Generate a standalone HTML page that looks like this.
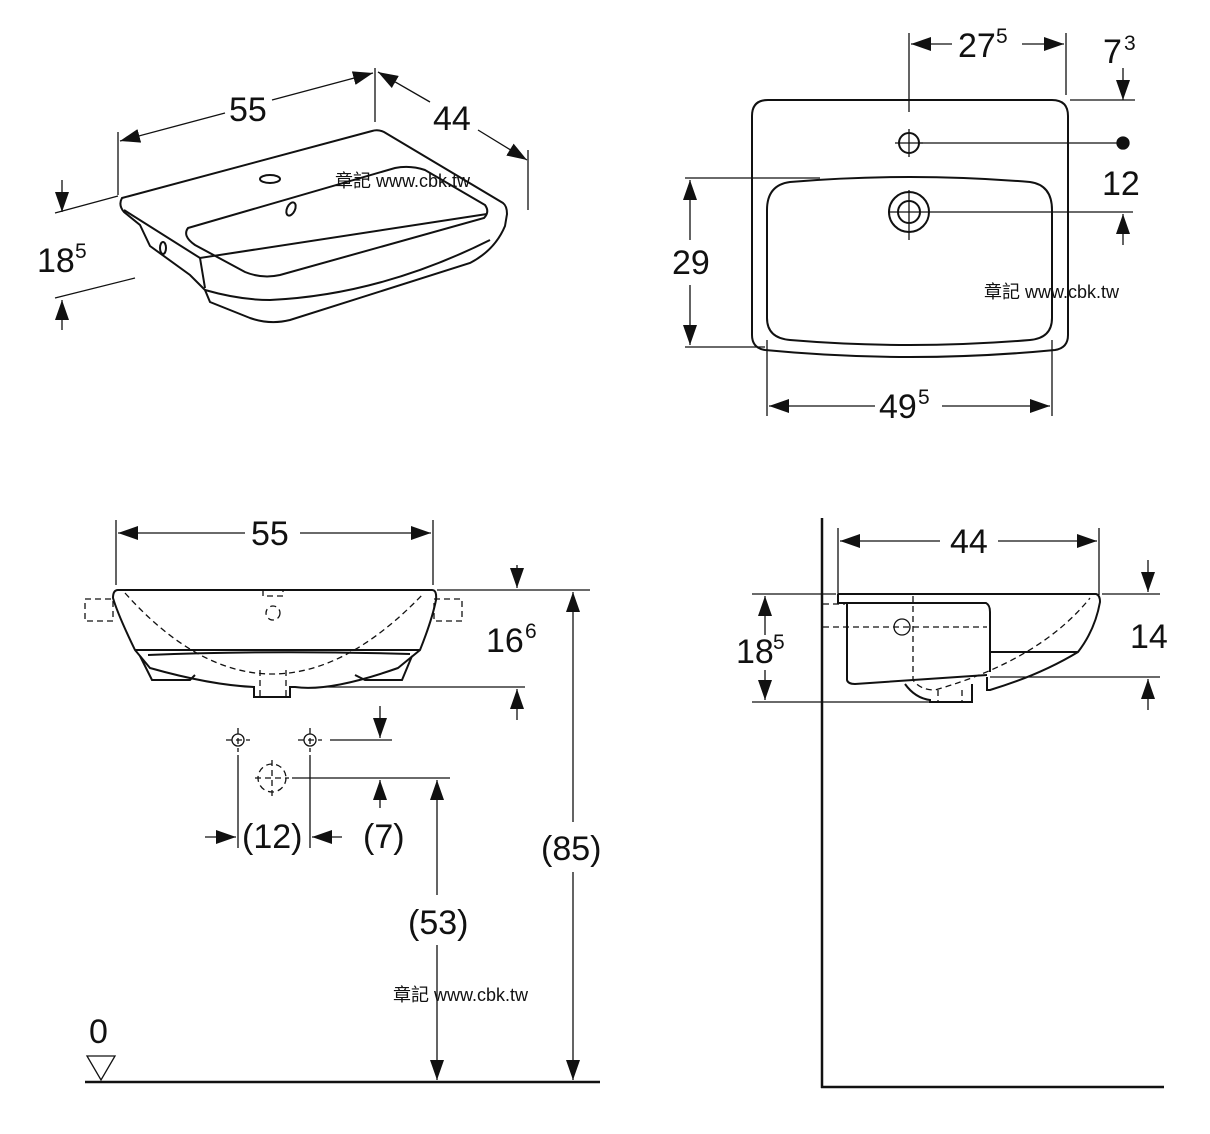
<!DOCTYPE html>
<html><head><meta charset="utf-8"><style>
html,body{margin:0;padding:0;background:#fff}
svg{display:block}
text{font-family:"Liberation Sans","Noto Sans CJK TC",sans-serif;fill:#111}
.d{font-size:34px}
.s{font-size:21px}
.w{font-size:18px}
</style></head><body>
<svg width="1210" height="1134" viewBox="0 0 1210 1134" xmlns="http://www.w3.org/2000/svg">
<defs>
<marker id="a" viewBox="0 0 20 14" refX="20" refY="7" markerWidth="20" markerHeight="14" markerUnits="userSpaceOnUse" orient="auto-start-reverse"><path d="M0,0 L20,7 L0,14 z" fill="#111"/></marker>
</defs>
<g stroke="#111" stroke-width="1.3" fill="none">
<!-- ========== TOP LEFT ISO ========== -->
<line x1="118" y1="132" x2="118" y2="195"/>
<line x1="375" y1="68" x2="375" y2="122"/>
<line x1="528" y1="150" x2="528" y2="210"/>
<line x1="120" y1="141" x2="225" y2="113" marker-start="url(#a)"/>
<line x1="272" y1="100" x2="373" y2="73" marker-end="url(#a)"/>
<line x1="378" y1="72" x2="430" y2="102" marker-start="url(#a)"/>
<line x1="478" y1="130" x2="527" y2="160" marker-end="url(#a)"/>
<line x1="62" y1="180" x2="62" y2="212" marker-end="url(#a)"/>
<line x1="62" y1="330" x2="62" y2="300" marker-end="url(#a)"/>
<line x1="55" y1="213" x2="118" y2="196"/>
<line x1="55" y1="298" x2="135" y2="278"/>
<g stroke-width="2">
<path d="M122,198 L372,131 Q378,129 384,132 L503,203 Q507,206 507,214 L505,226 Q495,250 470,263 L290,320 Q270,325 250,318 L210,302 L205,290 L190,275 L150,246 L140,225 L124,212 Q118,205 122,198 Z"/>
<path d="M124,210 L200,258 L487,214"/>
<path d="M200,258 L205,288"/>
<path d="M188,228 L395,168 Q410,165 425,170 L485,205 Q490,212 484,218 L280,275 Q262,279 245,272 L195,245 Q182,236 188,228 Z"/>
<ellipse cx="270" cy="179" rx="10" ry="4"/>
<ellipse cx="291" cy="209" rx="4" ry="7" transform="rotate(25 291 209)"/>
<ellipse cx="163" cy="248" rx="3" ry="6"/>
<path d="M205,290 Q240,300 270,300 Q380,295 490,240"/>
</g>
<!-- ========== TOP RIGHT PLAN ========== -->
<line x1="909" y1="33" x2="909" y2="112"/>
<line x1="1066" y1="33" x2="1066" y2="95"/>
<line x1="911" y1="44" x2="952" y2="44" marker-start="url(#a)"/>
<line x1="1022" y1="44" x2="1064" y2="44" marker-end="url(#a)"/>
<line x1="1123" y1="68" x2="1123" y2="100" marker-end="url(#a)"/>
<line x1="1070" y1="100" x2="1135" y2="100"/>
<line x1="920" y1="143" x2="1123" y2="143"/>
<circle cx="1123" cy="143" r="6" fill="#111"/>
<line x1="930" y1="212" x2="1133" y2="212"/>
<line x1="1123" y1="245" x2="1123" y2="214" marker-end="url(#a)"/>
<line x1="685" y1="178" x2="820" y2="178"/>
<line x1="685" y1="347" x2="765" y2="347"/>
<line x1="690" y1="180" x2="690" y2="240" marker-start="url(#a)"/>
<line x1="690" y1="285" x2="690" y2="345" marker-end="url(#a)"/>
<line x1="767" y1="340" x2="767" y2="416"/>
<line x1="1052" y1="340" x2="1052" y2="416"/>
<line x1="769" y1="406" x2="875" y2="406" marker-start="url(#a)"/>
<line x1="942" y1="406" x2="1050" y2="406" marker-end="url(#a)"/>
<g stroke-width="2">
<path d="M768,100 L1052,100 Q1068,100 1068,116 L1068,335 Q1068,348 1055,350 Q910,364 765,350 Q752,348 752,335 L752,116 Q752,100 768,100 Z"/>
<path d="M790,182 Q910,172 1030,182 Q1052,185 1052,210 L1052,318 Q1052,338 1030,340 Q910,350 790,340 Q767,338 767,318 L767,210 Q767,185 790,182 Z"/>
<circle cx="909" cy="143" r="10"/>
<circle cx="909" cy="212" r="11"/>
<circle cx="909" cy="212" r="20"/>
</g>
<line x1="895" y1="143" x2="923" y2="143"/>
<line x1="909" y1="129" x2="909" y2="157"/>
<line x1="888" y1="212" x2="930" y2="212"/>
<line x1="909" y1="190" x2="909" y2="240"/>
<!-- ========== BOTTOM LEFT FRONT ========== -->
<line x1="116" y1="520" x2="116" y2="585"/>
<line x1="433" y1="520" x2="433" y2="585"/>
<line x1="118" y1="533" x2="245" y2="533" marker-start="url(#a)"/>
<line x1="300" y1="533" x2="431" y2="533" marker-end="url(#a)"/>
<line x1="437" y1="590" x2="590" y2="590"/>
<line x1="517" y1="565" x2="517" y2="588" marker-end="url(#a)"/>
<line x1="325" y1="687" x2="525" y2="687"/>
<line x1="517" y1="720" x2="517" y2="689" marker-end="url(#a)"/>
<g stroke-width="2">
<path d="M118,590 L432,590 Q437,590 436,600 Q432,620 420,650 L398,668 Q330,692 295,687 L290,687 L290,697 L254,697 L254,687 Q210,685 150,668 L135,650 Q118,615 113,598 Q113,590 118,590 Z"/>
<path d="M135,650 L420,650"/>
<path d="M140,656 L152,680 L190,680 L195,675"/>
<path d="M412,656 L402,680 L365,680 L355,675"/>
<path d="M148,655 Q270,650 410,654"/>
</g>
<g stroke-dasharray="6,4">
<rect x="85" y="599" width="28" height="22"/>
<rect x="434" y="599" width="28" height="22"/>
<path d="M125,593 Q270,755 424,593"/>
<circle cx="273" cy="613" r="7"/>
<path d="M263,590 L263,596 L283,596 L283,590"/>
<path d="M260,670 L260,697 M286,670 L286,697"/>
<circle cx="272" cy="778" r="14"/>
<line x1="226" y1="740" x2="250" y2="740"/><line x1="238" y1="728" x2="238" y2="752"/>
<line x1="298" y1="740" x2="322" y2="740"/><line x1="310" y1="728" x2="310" y2="752"/>
<line x1="255" y1="778" x2="289" y2="778"/><line x1="272" y1="760" x2="272" y2="796"/>
</g>
<circle cx="238" cy="740" r="6"/>
<circle cx="310" cy="740" r="6"/>
<line x1="330" y1="740" x2="392" y2="740"/>
<line x1="380" y1="706" x2="380" y2="738" marker-end="url(#a)"/>
<line x1="292" y1="778" x2="450" y2="778"/>
<line x1="380" y1="808" x2="380" y2="780" marker-end="url(#a)"/>
<line x1="238" y1="755" x2="238" y2="848"/>
<line x1="310" y1="755" x2="310" y2="848"/>
<line x1="205" y1="837" x2="236" y2="837" marker-end="url(#a)"/>
<line x1="342" y1="837" x2="312" y2="837" marker-end="url(#a)"/>
<line x1="437" y1="780" x2="437" y2="895" marker-start="url(#a)"/>
<line x1="437" y1="945" x2="437" y2="1080" marker-end="url(#a)"/>
<line x1="573" y1="592" x2="573" y2="822" marker-start="url(#a)"/>
<line x1="573" y1="872" x2="573" y2="1080" marker-end="url(#a)"/>
<line x1="85" y1="1082" x2="600" y2="1082" stroke-width="2.5"/>
<path d="M87,1056 L115,1056 L101,1080 Z"/>
<!-- ========== BOTTOM RIGHT SIDE ========== -->
<line x1="822" y1="518" x2="822" y2="1088" stroke-width="2.5"/>
<line x1="821" y1="1087" x2="1164" y2="1087" stroke-width="2.5"/>
<line x1="838" y1="528" x2="838" y2="598"/>
<line x1="1099" y1="528" x2="1099" y2="595"/>
<line x1="840" y1="541" x2="940" y2="541" marker-start="url(#a)"/>
<line x1="998" y1="541" x2="1097" y2="541" marker-end="url(#a)"/>
<line x1="1102" y1="594" x2="1160" y2="594"/>
<line x1="1148" y1="560" x2="1148" y2="592" marker-end="url(#a)"/>
<line x1="990" y1="677" x2="1160" y2="677"/>
<line x1="1148" y1="710" x2="1148" y2="679" marker-end="url(#a)"/>
<line x1="752" y1="594" x2="836" y2="594"/>
<line x1="752" y1="702" x2="930" y2="702"/>
<line x1="765" y1="596" x2="765" y2="635" marker-start="url(#a)"/>
<line x1="765" y1="670" x2="765" y2="700" marker-end="url(#a)"/>
<g stroke-width="2">
<path d="M838,594 L1096,594 Q1100,595 1100,602 Q1095,630 1078,652 Q1040,675 990,690 L987,690 L987,677"/>
<path d="M838,594 L838,603 L986,603 Q990,605 990,612 L990,672"/>
<path d="M847,603 L847,680 Q848,684 855,684 L987,675"/>
<path d="M905,684 Q915,698 930,700 L930,702 L972,702 L972,684"/>
<path d="M990,652 L1078,652"/>
</g>
<g stroke-dasharray="6,4">
<line x1="823" y1="604" x2="845" y2="604"/>
<line x1="823" y1="627" x2="987" y2="627"/>
<path d="M913,596 L913,680 Q920,690 935,690 Q1040,660 1090,598"/>
<path d="M938,690 L938,702 M962,690 L962,702"/>
</g>
<circle cx="902" cy="627" r="8"/>
</g>
<!-- ========== TEXT ========== -->
<text class="d" x="229" y="121">55</text>
<text class="d" x="433" y="130">44</text>
<text class="d" x="37" y="272">18</text><text class="s" x="75" y="258">5</text>
<text class="w" x="335" y="187">章記 www.cbk.tw</text>
<text class="d" x="958" y="57">27</text><text class="s" x="996" y="43">5</text>
<text class="d" x="1103" y="63">7</text><text class="s" x="1124" y="50">3</text>
<text class="d" x="1102" y="195">12</text>
<text class="d" x="672" y="274">29</text>
<text class="w" x="984" y="298">章記 www.cbk.tw</text>
<text class="d" x="879" y="418">49</text><text class="s" x="918" y="404">5</text>
<text class="d" x="251" y="545">55</text>
<text class="d" x="486" y="652">16</text><text class="s" x="525" y="638">6</text>
<text class="d" x="242" y="848">(12)</text>
<text class="d" x="363" y="848">(7)</text>
<text class="d" x="541" y="860">(85)</text>
<text class="d" x="408" y="934">(53)</text>
<text class="w" x="393" y="1001">章記 www.cbk.tw</text>
<text class="d" x="89" y="1043">0</text>
<text class="d" x="950" y="553">44</text>
<text class="d" x="1130" y="648">14</text>
<text class="d" x="736" y="663">18</text><text class="s" x="773" y="649">5</text>
</svg>
</body></html>
